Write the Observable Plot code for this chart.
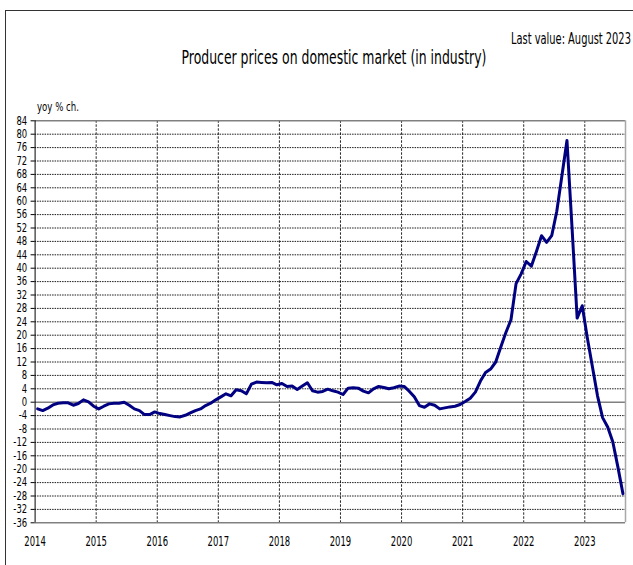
<!DOCTYPE html>
<html>
<head>
<meta charset="utf-8">
<script src="https://cdn.jsdelivr.net/npm/d3@7"></script>
<script src="https://cdn.jsdelivr.net/npm/@observablehq/plot@0.6"></script>
<style>
  html, body { margin: 0; padding: 0; background: #fff; }
  #wrap { position: relative; width: 633px; height: 565px; overflow: hidden;
          font-family: "DejaVu Sans Condensed", "Liberation Sans Narrow", sans-serif; }
  #frame { position: absolute; left: 5px; top: 10px; width: 700px; height: 700px;
           border-left: 1px solid #333; border-top: 1px solid #333; }
  .txt { position: absolute; white-space: nowrap; color: #000; line-height: 1; }
  #title { left: 333.5px; top: 48px; font-size: 19px; transform-origin: 50% 50%; }
  #last { right: 2px; top: 32px; font-size: 15px; transform-origin: 100% 50%; }
  #unit { left: 37px; top: 101px; font-size: 12.5px; transform-origin: 0 50%; }
  #chart { position: absolute; left: 0; top: 0; }
</style>
</head>
<body>
<div id="wrap">
  <div id="frame"></div>
  <div class="txt" id="title">Producer prices on domestic market (in industry)</div>
  <div class="txt" id="last">Last value: August 2023</div>
  <div class="txt" id="unit">yoy % ch.</div>
  <div id="chart"></div>
</div>
<script>
// Producer prices, yoy % change, monthly values (Jan..Dec)
const ppi2014 = [-2.0, -2.5, -1.8, -0.8, -0.3, -0.2, -0.2, -0.9, -0.4, 0.7, 0.1, -1.2];
const ppi2015 = [-2.0, -1.2, -0.5, -0.3, -0.3, 0.0, -0.9, -2.0, -2.5, -3.7, -3.7, -2.9];
const ppi2016 = [-3.4, -3.7, -4.0, -4.3, -4.4, -3.9, -3.2, -2.5, -2.0, -1.0, -0.3, 0.7];
const ppi2017 = [1.6, 2.5, 1.9, 3.7, 3.4, 2.5, 5.4, 6.0, 5.9, 5.8, 5.9, 5.2];
const ppi2018 = [5.6, 4.7, 4.8, 3.8, 4.8, 5.8, 3.4, 3.0, 3.2, 3.9, 3.4, 3.0];
const ppi2019 = [2.3, 4.2, 4.3, 4.2, 3.3, 2.8, 4.0, 4.7, 4.4, 4.0, 4.3, 4.8];
const ppi2020 = [4.7, 3.3, 1.6, -1.0, -1.5, -0.5, -0.9, -2.0, -1.7, -1.4, -1.2, -0.7];
const ppi2021 = [0.2, 1.2, 3.0, 6.3, 8.9, 9.9, 12.0, 16.5, 20.8, 24.6, 35.4, 38.3];
const ppi2022 = [42.0, 40.6, 45.0, 49.7, 47.7, 49.7, 57.0, 67.5, 78.1, 52.0, 25.1, 28.8];
const ppi2023 = [19.2, 10.6, 1.9, -4.6, -7.4, -11.8, -19.3, -27.3];

const years = [2014, 2015, 2016, 2017, 2018, 2019, 2020, 2021, 2022, 2023];
const yearLabels = ["2014", "2015", "2016", "2017", "2018", "2019", "2020", "2021", "2022", "2023"];
const yTicks = [-36, -32, -28, -24, -20, -16, -12, -8, -4, 0, 4, 8, 12, 16, 20, 24, 28, 32, 36, 40,
                44, 48, 52, 56, 60, 64, 68, 72, 76, 80, 84];

const series = [ppi2014, ppi2015, ppi2016, ppi2017, ppi2018, ppi2019, ppi2020, ppi2021, ppi2022, ppi2023];
const data = [];
series.forEach((vals, yi) => vals.forEach((v, m) => data.push({i: yi * 12 + m, year: years[yi], month: m + 1, v})));
const nMonths = data.length; // 116 months, Jan 2014 .. Aug 2023
const yearStarts = years.map((y, k) => k * 12);

const FONT = '"DejaVu Sans Condensed", "Liberation Sans Narrow", sans-serif';

const chart = Plot.plot({
  width: 633,
  height: 565,
  marginLeft: 34.6,
  marginRight: 8,
  marginTop: 120.3,
  marginBottom: 42.7,
  style: {fontFamily: FONT, fontSize: "12px", background: "transparent", overflow: "visible"},
  x: {domain: [0, nMonths], axis: null},
  y: {domain: [-36, 84], axis: null},
  marks: [
    Plot.ruleY(yTicks.filter(d => d !== 0 && d !== 84 && d !== -36), {stroke: "#000", strokeDasharray: "1.5,1", strokeWidth: 1, strokeOpacity: 0.9}),
    Plot.ruleX(yearStarts.slice(1), {stroke: "#000", strokeDasharray: "2.5,1.5", strokeWidth: 1, strokeOpacity: 0.85}),
    Plot.ruleY([0], {stroke: "#808080", strokeWidth: 1.5}),
    Plot.ruleY([84, -36], {stroke: "#808080", strokeWidth: 1.5}),
    Plot.ruleX([nMonths], {stroke: "#a8a8a8", strokeWidth: 1.5}),
    Plot.ruleX([0], {stroke: "#000", strokeWidth: 1}),
    Plot.axisY({ticks: yTicks, label: null, tickSize: 4, tickPadding: 4, tickFormat: d => String(d), fontSize: 12, stroke: "#000"}),
    Plot.axisX({ticks: yearStarts, label: null, tickSize: 0, tickPadding: 13, tickFormat: (d, k) => yearLabels[k], fontSize: 14}),
    Plot.lineY(data, {x: d => d.i + 0.5, y: "v", stroke: "#000080", strokeWidth: 3, strokeLinejoin: "round", curve: "linear"})
  ]
});
document.getElementById("chart").appendChild(chart);

// Narrow the glyphs to match the condensed face of the original
function squeeze(selector, sampleText, targetWidth) {
  const texts = Array.from(chart.querySelectorAll(selector));
  const sample = texts.find(t => t.textContent === sampleText);
  if (!sample) return;
  const f = targetWidth / sample.getComputedTextLength();
  texts.forEach(t => {
    const w = t.getComputedTextLength();
    t.setAttribute("textLength", (w * f).toFixed(2));
    t.setAttribute("lengthAdjust", "spacingAndGlyphs");
  });
}
squeeze('[aria-label="y-axis tick label"] text', "84", 10.7);
squeeze('[aria-label="x-axis tick label"] text', "2014", 21.5);

function fitHtml(id, target, base) {
  const el = document.getElementById(id);
  const f = target / el.offsetWidth;
  el.style.transform = base + " scaleX(" + f.toFixed(4) + ")";
}
fitHtml("title", 305, "translateX(-50%)");
fitHtml("last", 120, "");
fitHtml("unit", 42, "");
</script>
</body>
</html>
